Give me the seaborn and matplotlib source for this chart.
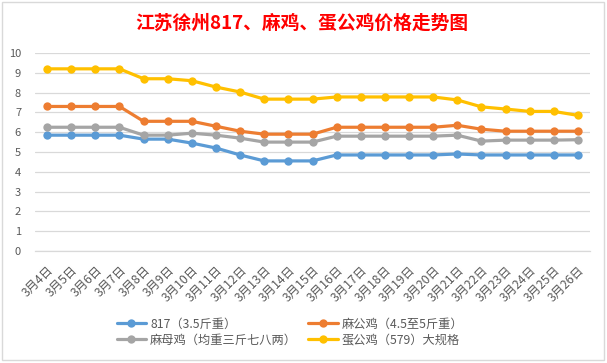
import matplotlib
matplotlib.use("Agg")
import matplotlib.pyplot as plt
import seaborn as sns
import pandas as pd
import numpy as np
from matplotlib.patches import Rectangle

dates = ["3月4日", "3月5日", "3月6日", "3月7日", "3月8日", "3月9日", "3月10日", "3月11日",
         "3月12日", "3月13日", "3月14日", "3月15日", "3月16日", "3月17日", "3月18日", "3月19日",
         "3月20日", "3月21日", "3月22日", "3月23日", "3月24日", "3月25日", "3月26日"]

s817 = [5.85, 5.85, 5.85, 5.85, 5.65, 5.65, 5.45, 5.2, 4.85, 4.55, 4.55, 4.55,
        4.85, 4.85, 4.85, 4.85, 4.85, 4.9, 4.85, 4.85, 4.85, 4.85, 4.85]
ma_gong = [7.3, 7.3, 7.3, 7.3, 6.55, 6.55, 6.55, 6.3, 6.05, 5.9, 5.9, 5.9,
           6.25, 6.25, 6.25, 6.25, 6.25, 6.35, 6.15, 6.05, 6.05, 6.05, 6.05]
ma_mu = [6.25, 6.25, 6.25, 6.25, 5.85, 5.85, 5.95, 5.85, 5.7, 5.5, 5.5, 5.5,
         5.8, 5.8, 5.8, 5.8, 5.8, 5.85, 5.55, 5.6, 5.6, 5.6, 5.62]
dan_gong = [9.2, 9.2, 9.2, 9.2, 8.7, 8.7, 8.6, 8.28, 8.03, 7.67, 7.67, 7.67,
            7.78, 7.78, 7.78, 7.78, 7.78, 7.63, 7.28, 7.17, 7.05, 7.05, 6.85]

series_names = ["817（3.5斤重）", "麻公鸡（4.5至5斤重）", "麻母鸡（均重三斤七八两）", "蛋公鸡（579）大规格"]
series_vals = [s817, ma_gong, ma_mu, dan_gong]
colors = ["#5B9BD5", "#ED7D31", "#A5A5A5", "#FFC000"]
yticks = list(range(0, 11))

sns.set_theme(style="white")
plt.rcParams['font.family'] = ['Noto Sans CJK SC', 'DejaVu Sans']

fig = plt.figure(figsize=(6.07, 3.63), dpi=100)
fig.patch.set_facecolor("white")
fig.patches.append(Rectangle((2 / 607, 1 - 360 / 363), 602 / 607, 358 / 363,
                             transform=fig.transFigure, fill=False,
                             edgecolor="#D9D9D9", linewidth=1.0))

ax = fig.add_axes([35 / 607, 1 - 251 / 363, 555 / 607, 198 / 363])

x = np.arange(len(dates))
for name, vals, c in zip(series_names, series_vals, colors):
    df = pd.DataFrame({"x": x, "y": vals})
    sns.lineplot(data=df, x="x", y="y", ax=ax, color=c, linewidth=2.3,
                 marker="o", markersize=6, markeredgewidth=0, label=name)

ax.set_xlim(-0.5, len(dates) - 0.5)
ax.set_ylim(0, 10)
ax.set_yticks(yticks)
ax.set_yticklabels([str(v) for v in yticks])
ax.set_xticks(x)
ax.set_xticklabels(dates, rotation=45, ha="right", rotation_mode="anchor")
ax.set_xticks(np.arange(-0.5, len(dates), 1.0), minor=True)
ax.tick_params(axis="x", which="major", length=0, pad=9, labelsize=8.8, colors="#595959")
ax.tick_params(axis="x", which="minor", length=4, color="#D9D9D9", width=0.8)
ax.tick_params(axis="y", length=0, pad=10, labelsize=8, colors="#595959")
for lbl in ax.get_xticklabels():
    lbl.set_color("#595959")
ax.set_xlabel("")
ax.set_ylabel("")
ax.grid(axis="y", color="#D9D9D9", linewidth=0.9)
ax.set_axisbelow(True)
for side in ["top", "right", "left"]:
    ax.spines[side].set_visible(False)
ax.spines["bottom"].set_color("#D9D9D9")
ax.spines["bottom"].set_linewidth(0.9)

ax.get_legend().remove()
h, l = ax.get_legend_handles_labels()
order = [0, 2, 1, 3]
leg = fig.legend([h[i] for i in order], [l[i] for i in order], ncol=2,
                 loc="center", bbox_to_anchor=(290 / 607, 1 - 332 / 363),
                 frameon=False, fontsize=8.8, handlelength=2.4, handletextpad=0.35,
                 columnspacing=0.9, labelspacing=0.25, labelcolor="#595959")

fig.text(302 / 607, 1 - 23 / 363, "江苏徐州817、麻鸡、蛋公鸡价格走势图",
         ha="center", va="center", color="#FF0000", fontsize=13.5, fontweight="bold")

fig.savefig("out.png", dpi=100, facecolor="white")
